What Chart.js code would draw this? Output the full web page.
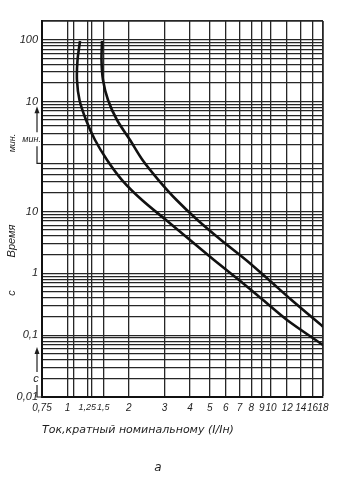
<!DOCTYPE html>
<html><head><meta charset="utf-8">
<script src="https://cdn.jsdelivr.net/npm/chart.js@4"></script>
<style>html,body{margin:0;padding:0;background:#fff}canvas{display:block}</style>
</head><body>
<canvas id="c" width="360" height="489"></canvas>
<script>
// ---- data ----
// current multiple I/In (x) and time in seconds (y)
const curveLowerX = [1.153, 1.121, 1.114, 1.146, 1.234, 1.366, 1.565, 1.854, 2.324, 3.05, 4.0, 5.248, 6.964, 9.135, 11.98, 18];
const curveLowerT = [5699, 2809, 1335, 634, 301, 142.9, 67.9, 32.2, 15.3, 7.27, 3.45, 1.64, 0.779, 0.370, 0.176, 0.0693];
const curveUpperX = [1.479, 1.470, 1.495, 1.582, 1.752, 2.030, 2.338, 2.801, 3.435, 4.354, 5.680, 7.538, 9.775, 12.61, 18];
const curveUpperT = [5699, 2809, 1335, 634, 301, 142.9, 67.9, 32.2, 15.3, 7.27, 3.45, 1.64, 0.779, 0.370, 0.137];

const xGridValues = [0.75, 1, 1.07, 1.25, 1.32, 1.5, 2, 3, 4, 5, 6, 7, 8, 9, 10, 12, 14, 16, 18];
const xLabelValues = [0.75, 1, 1.25, 1.5, 2, 3, 4, 5, 6, 7, 8, 9, 10, 12, 14, 16, 18];
const xLabelTexts  = ['0,75','1','1,25','1,5','2','3','4','5','6','7','8','9','10','12','14','16','18'];

const ySecondsGrid = [0.01,0.02,0.03,0.04,0.05,0.06,0.07,0.08,0.09,
                      0.1,0.2,0.3,0.4,0.5,0.6,0.7,0.8,0.9,
                      1,2,3,4,5,6,7,8,9,
                      10,20,30,40,50];
const yMinutesGrid = [1,2,3,4,5,6,7,8,9,10,20,30,40,50,60,70,80,90,100,200];
const yLabelValues = [0.01, 0.1, 1, 10, 600, 6000];      // seconds
const yLabelTexts  = ['0,01','0,1','1','10','10','100']; // 600 s = 10 мин, 6000 s = 100 мин

const yGridValues = ySecondsGrid.concat(yMinutesGrid.map(m => m * 60));

const FONT = "'Liberation Sans Narrow','Liberation Sans','DejaVu Sans',sans-serif";
const FONT_WIDE = "'DejaVu Sans',sans-serif";
const INK = '#1e1e1e';

const annot = {
  id: 'annot',
  afterDraw(chart) {
    const ctx = chart.ctx;
    const ys = chart.scales.y;
    const left = chart.chartArea.left;
    const ax = 37;
    ctx.save();
    ctx.strokeStyle = INK; ctx.fillStyle = INK; ctx.lineWidth = 1.2;
    function arrowUp(x, yFrom, yTo) {
      ctx.beginPath(); ctx.moveTo(x, yFrom); ctx.lineTo(x, yTo + 5); ctx.stroke();
      ctx.beginPath(); ctx.moveTo(x, yTo); ctx.lineTo(x - 2.5, yTo + 7); ctx.lineTo(x + 2.5, yTo + 7); ctx.closePath(); ctx.fill();
    }
    // minutes bracket
    const yMin1 = ys.getPixelForValue(60);
    ctx.beginPath(); ctx.moveTo(left, yMin1); ctx.lineTo(ax, yMin1); ctx.lineTo(ax, yMin1 - 17); ctx.stroke();
    arrowUp(ax, yMin1 - 31, yMin1 - 57);
    ctx.font = 'italic 9px ' + FONT; ctx.textAlign = 'right'; ctx.textBaseline = 'middle';
    ctx.fillText('мин.', 41, yMin1 - 24);
    // seconds bracket
    const yS = ys.getPixelForValue(0.01);
    ctx.beginPath(); ctx.moveTo(left, yS); ctx.lineTo(ax, yS); ctx.lineTo(ax, yS - 12); ctx.stroke();
    arrowUp(ax, yS - 25, yS - 50);
    ctx.font = 'italic 11px ' + FONT; ctx.textAlign = 'center';
    ctx.fillText('с', ax - 1, yS - 18);
    // rotated side labels
    function vtext(t, x, y, size) {
      ctx.save(); ctx.translate(x, y); ctx.rotate(-Math.PI / 2);
      ctx.font = 'italic ' + size + 'px ' + FONT; ctx.textAlign = 'center'; ctx.textBaseline = 'middle';
      ctx.fillText(t, 0, 0); ctx.restore();
    }
    vtext('мин.', 12, 143, 9);
    vtext('Время', 12, 241, 11);
    vtext('с', 12, 293, 11);
    // figure letter
    ctx.font = 'italic 12px ' + FONT_WIDE; ctx.textAlign = 'center';
    ctx.fillText('а', 158, 468);
    ctx.restore();
  }
};

new Chart(document.getElementById('c'), {
  type: 'scatter',
  data: {
    datasets: [
      { data: curveLowerX.map((x, i) => ({ x, y: curveLowerT[i] })), showLine: true, borderColor: '#111', borderWidth: 2.6, pointRadius: 0, tension: 0.3, fill: false },
      { data: curveUpperX.map((x, i) => ({ x, y: curveUpperT[i] })), showLine: true, borderColor: '#111', borderWidth: 2.6, pointRadius: 0, tension: 0.3, fill: false }
    ]
  },
  options: {
    responsive: false, animation: false, devicePixelRatio: 1,
    layout: { padding: { left: 0, right: 37, top: 21, bottom: 52 } },
    plugins: { legend: { display: false }, tooltip: { enabled: false } },
    scales: {
      x: {
        type: 'logarithmic', min: 0.75, max: 18,
        afterBuildTicks: s => { s.ticks = xGridValues.map(v => ({ value: v })); },
        afterFit: s => { s.height = 40; },
        ticks: {
          autoSkip: false, maxRotation: 0, padding: 5, color: INK,
          font: c => ({ family: FONT, size: (c.tick && (c.tick.value === 1.25 || c.tick.value === 1.5)) ? 9 : 10, style: 'italic' }),
          callback: v => { const i = xLabelValues.findIndex(a => Math.abs(a - v) < 1e-6); return i >= 0 ? xLabelTexts[i] : ''; }
        },
        grid: { drawTicks: false, color: '#262626', lineWidth: c => (c.tick && (c.tick.value === 18)) ? 1.8 : 1.3 },
        border: { display: true, color: '#111', width: 2 },
        title: { display: true, text: 'Ток,кратный номинальному (I/Iн)', align: 'start', color: INK, padding: 0,
                 font: { family: FONT_WIDE, size: 11, style: 'italic' } }
      },
      y: {
        type: 'logarithmic', min: 0.01, max: 12000,
        afterBuildTicks: s => { s.ticks = yGridValues.map(v => ({ value: v })); },
        afterFit: s => { s.width = 42; },
        ticks: {
          autoSkip: false, padding: 4, color: INK,
          font: { family: FONT, size: 11, style: 'italic' },
          callback: v => { const i = yLabelValues.findIndex(a => Math.abs(a - v) < 1e-9 * Math.max(1, a)); return i >= 0 ? yLabelTexts[i] : ''; }
        },
        grid: { drawTicks: false, color: '#262626', lineWidth: c => (c.tick && c.tick.value === 12000) ? 1.8 : 1.2 },
        border: { display: true, color: '#111', width: 2 }
      }
    }
  },
  plugins: [annot]
});
</script>
</body></html>
